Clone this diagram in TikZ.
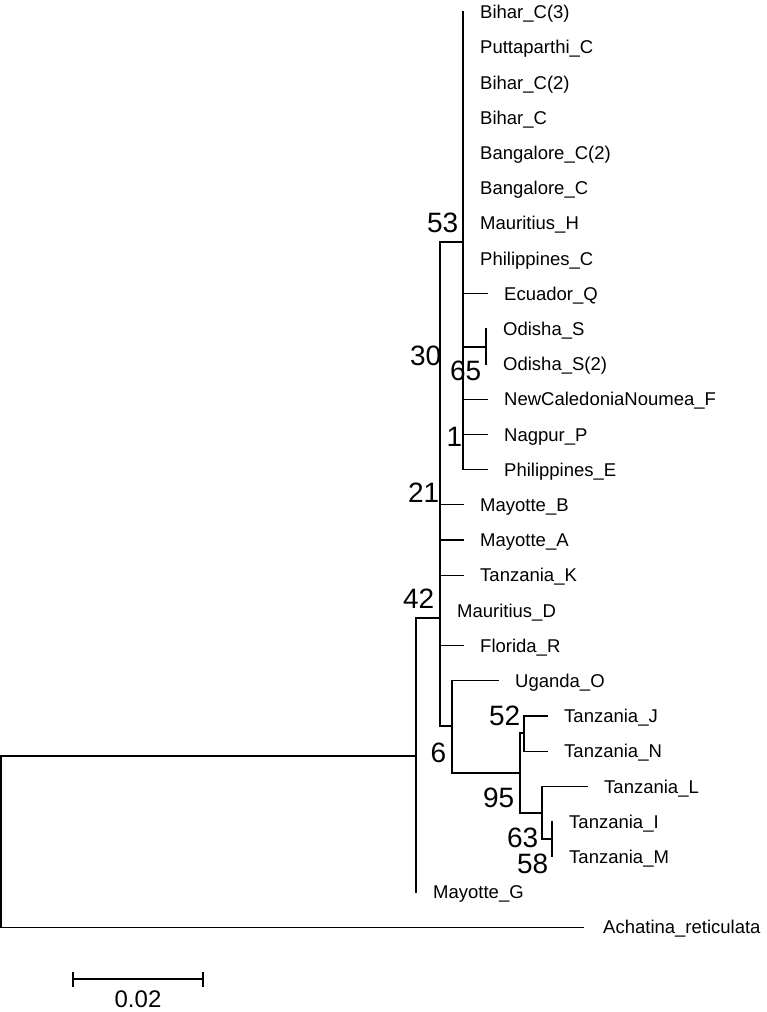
\documentclass[tikz,border=0pt]{standalone}
\usepackage{fontspec}
\setmainfont{Liberation Sans}
\begin{document}
\begin{tikzpicture}[x=1pt,y=-1pt]
\tikzset{
  tip/.style={anchor=base west, inner sep=0pt, xshift=17pt, yshift=-6.6pt, font=\fontsize{18.5}{20}\selectfont},
  boot/.style={anchor=base east, inner sep=0pt, yshift=-10pt, font=\fontsize{28}{30}\selectfont},
  br/.style={line width=1.3pt, line cap=rect},
  bar/.style={line width=2.6pt},
}
\useasboundingbox (0,0) rectangle (767,1012);
% tip end points
\coordinate (e0) at (463,12);
\coordinate (e1) at (463,47.2);
\coordinate (e2) at (463,82.4);
\coordinate (e3) at (463,117.6);
\coordinate (e4) at (463,152.8);
\coordinate (e5) at (463,188);
\coordinate (e6) at (463,223.2);
\coordinate (e7) at (463,258.4);
\coordinate (e8) at (487,293.6);
\coordinate (e9) at (486,328.8);
\coordinate (e10) at (486,364);
\coordinate (e11) at (487,399.2);
\coordinate (e12) at (487,434.4);
\coordinate (e13) at (487,469.6);
\coordinate (e14) at (463,504.8);
\coordinate (e15) at (463,540);
\coordinate (e16) at (463,575.2);
\coordinate (e17) at (440,610.4);
\coordinate (e18) at (463,645.6);
\coordinate (e19) at (498,680.8);
\coordinate (e20) at (547,716);
\coordinate (e21) at (547,751.2);
\coordinate (e22) at (587,786.4);
\coordinate (e23) at (552,821.6);
\coordinate (e24) at (552,856.8);
\coordinate (e25) at (416,892);
\coordinate (e26) at (583,927.2);
% internal nodes
\coordinate (R) at (1,756);
\coordinate (nA) at (416,756);
\coordinate (nB) at (440,618);
\coordinate (nC) at (463,242);
\coordinate (nO) at (486,347);
\coordinate (nD) at (452,726);
\coordinate (nE) at (520,773);
\coordinate (nF) at (524,733);
\coordinate (nG) at (542,813);
\coordinate (nH) at (552,839);
% branches
\draw[br] (nA) -- (R) |- (e26);
\draw[br] (nA |- nB) -- (e25);
\draw[br] (nA |- nB) -- (nB);
\draw[br] (nB |- nC) -- (nB |- nD);
\draw[br] (nB |- nC) -- (nC);
\draw[br] (e0) -- (nC |- e13);
\draw[br] (nC |- e8) -- (e8);
\draw[br] (nC |- nO) -- (nO);
\draw[br] (e9) -- (e10);
\draw[br] (nC |- e11) -- (e11);
\draw[br] (nC |- e12) -- (e12);
\draw[br] (nC |- e13) -- (e13);
\draw[br] (nB |- e14) -- (e14);
\draw[br] (nB |- e15) -- (e15);
\draw[br] (nB |- e16) -- (e16);
\draw[br] (nB |- e18) -- (e18);
\draw[br] (nB |- nD) -- (nD);
\draw[br] (nD |- e19) -- (nD |- nE);
\draw[br] (nD |- e19) -- (e19);
\draw[br] (nD |- nE) -- (nE);
\draw[br] (nE |- nF) -- (nE |- nG);
\draw[br] (nE |- nF) -- (nF);
\draw[br] (nF |- e20) -- (nF |- e21);
\draw[br] (nF |- e20) -- (e20);
\draw[br] (nF |- e21) -- (e21);
\draw[br] (nE |- nG) -- (nG);
\draw[br] (nG |- e22) -- (nG |- nH);
\draw[br] (nG |- e22) -- (e22);
\draw[br] (nG |- nH) -- (nH);
\draw[br] (e23) -- (e24);
% tip labels
\node[tip] (t0) at (e0) {Bihar\_C(3)};
\node[tip] (t1) at (e1) {Puttaparthi\_C};
\node[tip] (t2) at (e2) {Bihar\_C(2)};
\node[tip] (t3) at (e3) {Bihar\_C};
\node[tip] (t4) at (e4) {Bangalore\_C(2)};
\node[tip] (t5) at (e5) {Bangalore\_C};
\node[tip] (t6) at (e6) {Mauritius\_H};
\node[tip] (t7) at (e7) {Philippines\_C};
\node[tip] (t8) at (e8) {Ecuador\_Q};
\node[tip] (t9) at (e9) {Odisha\_S};
\node[tip] (t10) at (e10) {Odisha\_S(2)};
\node[tip] (t11) at (e11) {NewCaledoniaNoumea\_F};
\node[tip] (t12) at (e12) {Nagpur\_P};
\node[tip] (t13) at (e13) {Philippines\_E};
\node[tip] (t14) at (e14) {Mayotte\_B};
\node[tip] (t15) at (e15) {Mayotte\_A};
\node[tip] (t16) at (e16) {Tanzania\_K};
\node[tip] (t17) at (e17) {Mauritius\_D};
\node[tip] (t18) at (e18) {Florida\_R};
\node[tip] (t19) at (e19) {Uganda\_O};
\node[tip] (t20) at (e20) {Tanzania\_J};
\node[tip] (t21) at (e21) {Tanzania\_N};
\node[tip] (t22) at (e22) {Tanzania\_L};
\node[tip] (t23) at (e23) {Tanzania\_I};
\node[tip] (t24) at (e24) {Tanzania\_M};
\node[tip] (t25) at (e25) {Mayotte\_G};
\node[tip, xshift=3pt] (t26) at (e26) {Achatina\_reticulata};
% bootstrap values
\node[boot] (b53) at (458.5,222) {53};
\node[boot] (b30) at (441.5,355) {30};
\node[boot] (b65) at (481.5,370) {65};
\node[boot] (b1) at (462.5,436) {1};
\node[boot] (b21) at (439.5,492) {21};
\node[boot] (b42) at (434.5,598) {42};
\node[boot] (b6) at (446.5,752) {6};
\node[boot] (b52) at (520.5,715) {52};
\node[boot] (b95) at (514.5,797) {95};
\node[boot] (b63) at (538.5,837) {63};
\node[boot] (b58) at (548.5,863) {58};
% scale bar
\coordinate (sL) at (73,979);
\coordinate (sR) at (203,979);
\coordinate (sLt) at (73,972);
\coordinate (sLb) at (73,987);
\coordinate (sRt) at (203,972);
\coordinate (sRb) at (203,987);
\draw[bar] (sL) -- (sR);
\draw[bar] (sLt) -- (sLb);
\draw[bar] (sRt) -- (sRb);
\node[anchor=base, inner sep=0pt, font=\fontsize{24}{26}\selectfont] (scl) at (138,1007.6) {0.02};
\end{tikzpicture}
\end{document}
